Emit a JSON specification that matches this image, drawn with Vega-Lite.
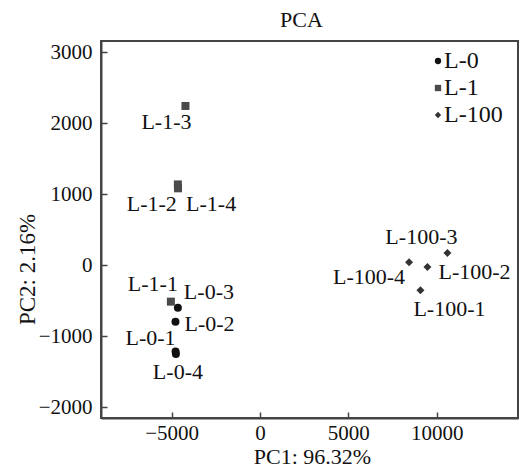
{
  "$schema": "https://vega.github.io/schema/vega-lite/v6.json",
  "autosize": {"type": "none"},
  "padding": {"left": 101, "top": 41, "right": 3, "bottom": 54},
  "width": 417,
  "height": 377,
  "background": "white",
  "config": {
    "font": "Liberation Serif",
    "view": {"stroke": "#444", "strokeWidth": 2},
    "axis": {"grid": false, "domainColor": "#444", "domainWidth": 2, "tickColor": "#444", "tickWidth": 1.5, "labelFont": "Liberation Serif", "titleFont": "Liberation Serif", "labelColor": "#111", "titleColor": "#111", "titleFontWeight": "normal"},
    "text": {"font": "Liberation Serif", "fontSize": 22, "color": "#111", "baseline": "middle"}
  },
  "title": {"text": "PCA", "font": "Liberation Serif", "fontSize": 22, "fontWeight": "normal", "color": "#111", "anchor": "middle", "dx": -8, "offset": 9},
  "data": {"values": [
    {"label": "L-0-1", "group": "L-0", "pc1": -4780, "pc2": -1215},
    {"label": "L-0-2", "group": "L-0", "pc1": -4785, "pc2": -793},
    {"label": "L-0-3", "group": "L-0", "pc1": -4650, "pc2": -596},
    {"label": "L-0-4", "group": "L-0", "pc1": -4760, "pc2": -1250},
    {"label": "L-1-1", "group": "L-1", "pc1": -5045, "pc2": -511},
    {"label": "L-1-2", "group": "L-1", "pc1": -4650, "pc2": 1140},
    {"label": "L-1-3", "group": "L-1", "pc1": -4220, "pc2": 2245},
    {"label": "L-1-4", "group": "L-1", "pc1": -4640, "pc2": 1085},
    {"label": "L-100-1", "group": "L-100", "pc1": 9080, "pc2": -352},
    {"label": "L-100-2", "group": "L-100", "pc1": 9475, "pc2": -23},
    {"label": "L-100-3", "group": "L-100", "pc1": 10605, "pc2": 175},
    {"label": "L-100-4", "group": "L-100", "pc1": 8435, "pc2": 42}
  ]},
  "encoding": {
    "x": {"field": "pc1", "type": "quantitative", "scale": {"domain": [-9000, 14600], "nice": false, "zero": false},
      "axis": {"values": [-5000, 0, 5000, 10000], "format": "d", "title": "PC1: 96.32%", "tickSize": -6, "labelPadding": 10, "labelFontSize": 21, "titleFontSize": 22, "titleX": 211, "titleY": 38, "titleBaseline": "middle", "titleAlign": "center"}},
    "y": {"field": "pc2", "type": "quantitative", "scale": {"domain": [-2150, 3160], "nice": false, "zero": false},
      "axis": {"values": [-2000, -1000, 0, 1000, 2000, 3000], "format": "d", "title": "PC2: 2.16%", "tickSize": -6, "labelPadding": 15, "labelFontSize": 21, "titleFontSize": 23, "titleX": -74, "titleY": 228, "titleAngle": -90, "titleBaseline": "middle", "titleAlign": "center"}}
  },
  "layer": [
    {"mark": {"type": "point", "filled": true, "opacity": 1, "size": 64},
     "encoding": {
       "shape": {"field": "group", "type": "nominal", "scale": {"domain": ["L-0", "L-1", "L-100"], "range": ["circle", "square", "diamond"]}, "legend": null},
       "color": {"field": "group", "type": "nominal", "scale": {"domain": ["L-0", "L-1", "L-100"], "range": ["#111111", "#4a4a4a", "#333333"]},
         "legend": {"title": null, "orient": "none", "legendX": 325, "legendY": 8, "padding": 0, "symbolSize": 40, "symbolType": "circle", "labelFontSize": 24, "labelFont": "Liberation Serif", "labelColor": "#111", "labelOffset": -6, "rowPadding": 3, "symbolStrokeWidth": 0}}
     }},
    {"transform": [{"filter": "datum.label == 'L-1-3'"}], "mark": {"type": "text", "align": "center", "dx": -19, "dy": 16}, "encoding": {"text": {"field": "label"}}},
    {"transform": [{"filter": "datum.label == 'L-1-2'"}], "mark": {"type": "text", "align": "right", "dx": -1, "dy": 20}, "encoding": {"text": {"field": "label"}}},
    {"transform": [{"filter": "datum.label == 'L-1-4'"}], "mark": {"type": "text", "align": "left", "dx": 8, "dy": 16}, "encoding": {"text": {"field": "label"}}},
    {"transform": [{"filter": "datum.label == 'L-1-1'"}], "mark": {"type": "text", "align": "right", "dx": 7, "dy": -18}, "encoding": {"text": {"field": "label"}}},
    {"transform": [{"filter": "datum.label == 'L-0-3'"}], "mark": {"type": "text", "align": "left", "dx": 6, "dy": -16}, "encoding": {"text": {"field": "label"}}},
    {"transform": [{"filter": "datum.label == 'L-0-2'"}], "mark": {"type": "text", "align": "left", "dx": 9, "dy": 2}, "encoding": {"text": {"field": "label"}}},
    {"transform": [{"filter": "datum.label == 'L-0-1'"}], "mark": {"type": "text", "align": "right", "dx": 0, "dy": -14}, "encoding": {"text": {"field": "label"}}},
    {"transform": [{"filter": "datum.label == 'L-0-4'"}], "mark": {"type": "text", "align": "center", "dx": 2, "dy": 18}, "encoding": {"text": {"field": "label"}}},
    {"transform": [{"filter": "datum.label == 'L-100-3'"}], "mark": {"type": "text", "align": "center", "dx": -26, "dy": -16}, "encoding": {"text": {"field": "label"}}},
    {"transform": [{"filter": "datum.label == 'L-100-4'"}], "mark": {"type": "text", "align": "right", "dx": -4, "dy": 15}, "encoding": {"text": {"field": "label"}}},
    {"transform": [{"filter": "datum.label == 'L-100-2'"}], "mark": {"type": "text", "align": "left", "dx": 11, "dy": 5}, "encoding": {"text": {"field": "label"}}},
    {"transform": [{"filter": "datum.label == 'L-100-1'"}], "mark": {"type": "text", "align": "center", "dx": 29, "dy": 19}, "encoding": {"text": {"field": "label"}}}
  ]
}
